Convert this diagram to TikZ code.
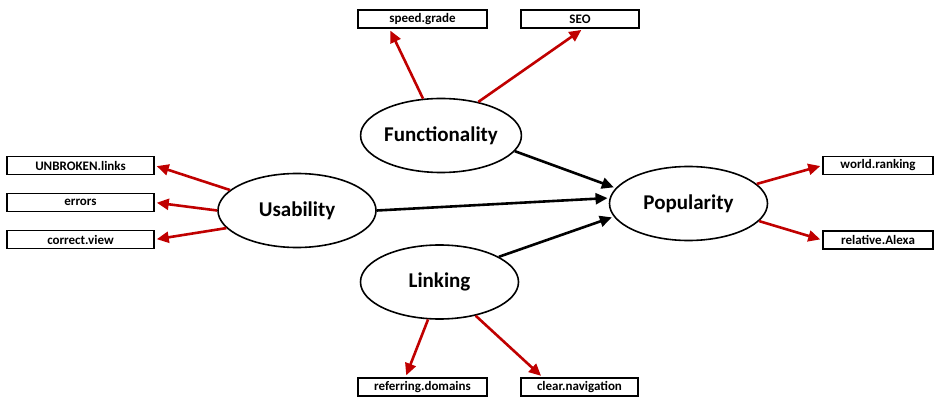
\documentclass[tikz,border=0pt]{standalone}
\usepackage{fontspec}
\setmainfont{Carlito}
\usetikzlibrary{arrows.meta,shapes.geometric}
\definecolor{arrred}{HTML}{C00000}
\tikzset{
  latent/.style={ellipse,draw=black,line width=1.6pt,minimum width=158pt,minimum height=74pt,inner sep=0pt,font=\bfseries\fontsize{21}{24}\selectfont},
  indbox/.style={rectangle,draw=black,line width=1.6pt,minimum height=18pt,inner sep=0pt,font=\bfseries\fontsize{13}{15}\selectfont},
  redarrow/.style={draw=arrred,line width=2.6pt,-{Triangle[length=12pt,width=11pt]},shorten >=2pt},
  blackarrow/.style={draw=black,line width=2.6pt,-{Triangle[length=12pt,width=11pt]},shorten >=2pt},
}
\begin{document}
\begin{tikzpicture}[x=1pt,y=-1pt]
\useasboundingbox (0,0) rectangle (940,398);
% latent variables
\node[latent] (func) at (441,135.5) {Functionality};
\node[latent] (usab) at (297,210.5) {Usability};
\node[latent] (link) at (439.5,282) {Linking};
\node[latent] (pop) at (688.5,203.5) {Popularity};
% indicator boxes
\node[indbox,minimum width=129pt] (sg) at (422.5,19) {speed.grade};
\node[indbox,minimum width=118pt] (seo) at (580,19) {SEO};
\node[indbox,minimum width=147pt] (ub) at (80.5,165.5) {UNBROKEN.links};
\node[indbox,minimum width=147pt] (err) at (80.5,202.5) {errors};
\node[indbox,minimum width=147pt] (cv) at (80.5,239.5) {correct.view};
\node[indbox,minimum width=110pt] (wr) at (878,165.5) {world.ranking};
\node[indbox,minimum width=110pt] (ra) at (878,240) {relative.Alexa};
\node[indbox,minimum width=129pt] (rd) at (422.5,387) {referring.domains};
\node[indbox,minimum width=117pt] (cn) at (579.5,387) {clear.navigation};
% red arrows
\draw[redarrow] (func.116) -- ([xshift=-33pt]sg.south);
\draw[redarrow] (func.42) -- ([xshift=3pt]seo.south);
\draw[redarrow] (usab.163.5) -- (ub.east);
\draw[redarrow] (usab.180) -- (err.east);
\draw[redarrow] (usab.194) -- (cv.east);
\draw[redarrow] (pop.16) -- (wr.west);
\draw[redarrow] (pop.-14) -- (ra.west);
\draw[redarrow] (link.253) -- ([xshift=-17pt]rd.north);
\draw[redarrow] (link.-43) -- ([xshift=-37pt]cn.north);
% black arrows
\draw[blackarrow] (func.-12) -- (pop.168);
\draw[blackarrow] (usab.-0.4) -- (pop.176.6);
\draw[blackarrow] (link.23.5) -- (pop.190);
\end{tikzpicture}
\end{document}
